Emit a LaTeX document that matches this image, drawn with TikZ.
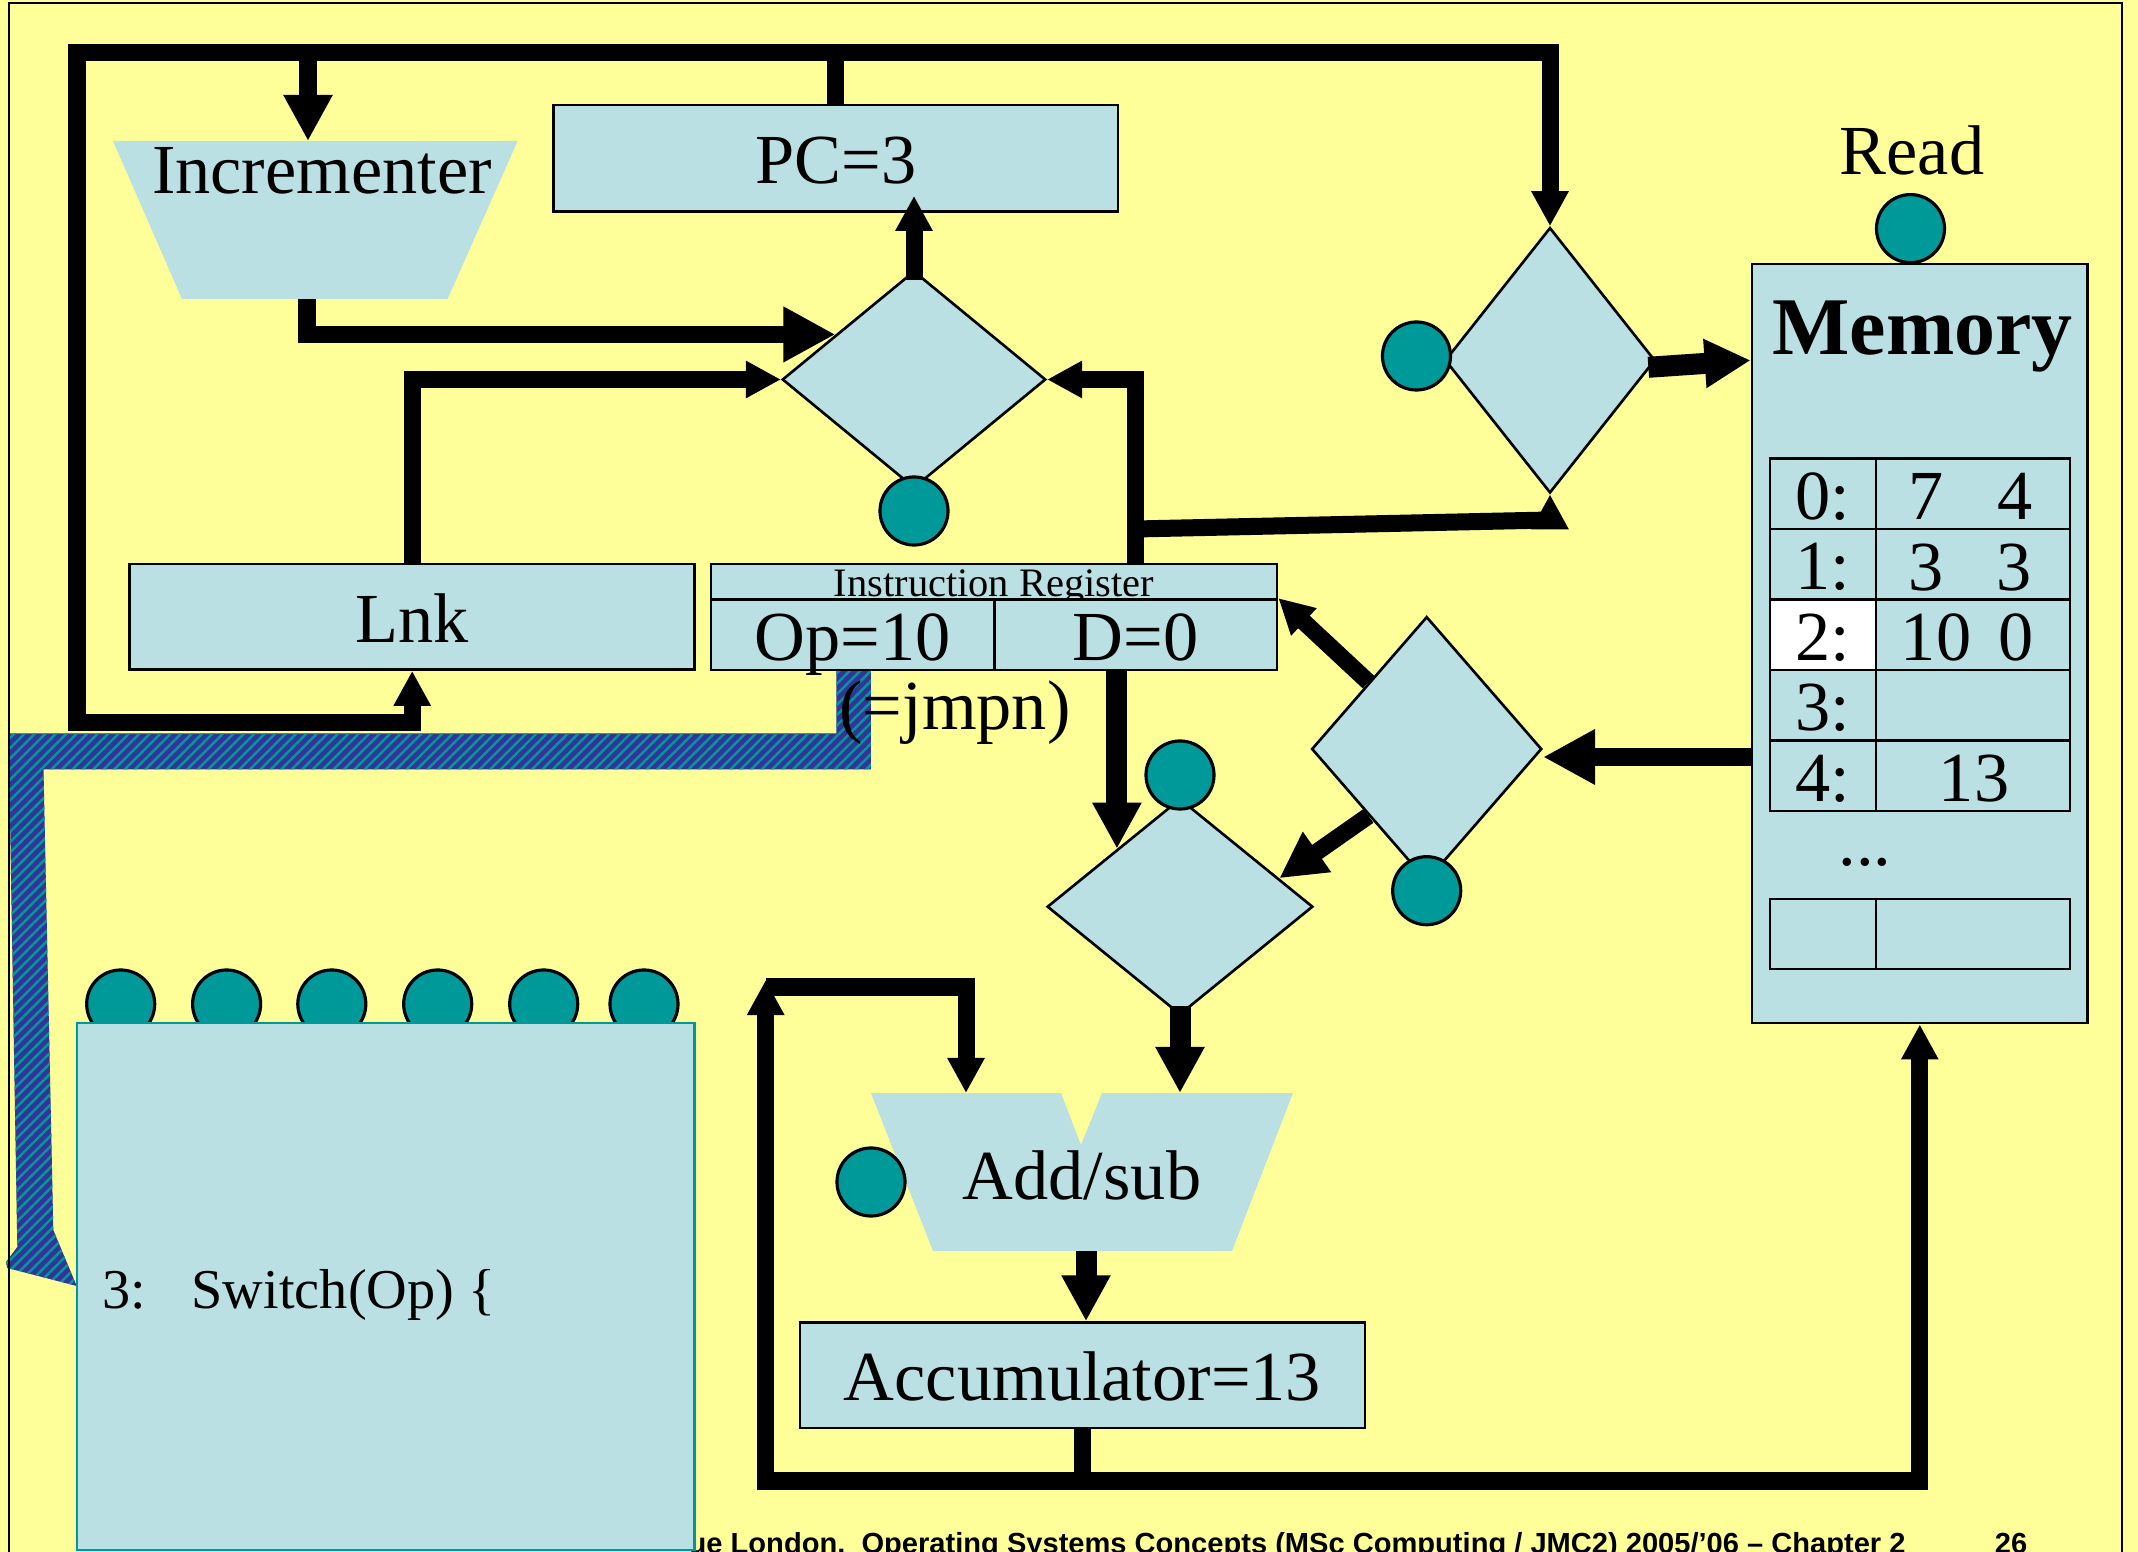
\documentclass[tikz,border=0pt]{standalone}
\usepackage{fontspec}
\setmainfont{Liberation Serif}
\newfontfamily\footfont{Liberation Sans}
\usetikzlibrary{arrows.meta,calc,shapes.geometric,patterns.meta}

\definecolor{slideyellow}{HTML}{FFFF99}
\definecolor{regblue}{HTML}{BBE0E3}
\definecolor{ctlteal}{HTML}{009999}
\definecolor{hatchblue}{HTML}{333399}

\tikzset{
  bus/.style={line width=1.7mm},
  fatbus/.style={line width=2.1mm},
  smalltip/.tip={Triangle[length=3.5mm,width=3.5mm]},
  midtip/.tip={Triangle[length=4.6mm,width=4.6mm]},
  bigtip/.tip={Triangle[length=5.2mm,width=5.2mm]},
  big/.style={font=\fontsize{20}{24}\selectfont, text height=14.6pt, text depth=0pt},
  reg/.style={draw, line width=0.7pt, fill=regblue, inner sep=0pt, big},
  mux/.style={diamond, draw, line width=0.75pt, fill=regblue, inner sep=0pt},
  ctl/.style={circle, draw, line width=0.9pt, fill=ctlteal, minimum size=6.8mm, inner sep=0pt},
  jumppath/.style={fill=hatchblue,
    postaction={pattern={Lines[angle=45,distance=2.1pt,line width=0.7pt]}, pattern color=ctlteal}},
}

\begin{document}
\begin{tikzpicture}[x=0.01cm, y=-0.01cm]

  % --- 1. slide ---
  \useasboundingbox (0,0) rectangle (2138,1552);
  \fill[slideyellow] (0,0) rectangle (2138,1552);

  % --- 2. hatched jump path (Op -> decoder) ---
  \path[jumppath] (836.4,670) -- (870.8,670) -- (870.8,769.3) -- (43.5,769.3)
    -- (53.3,1230) -- (76.7,1286) -- (7.3,1268) -- (6,1262) -- (17.3,1247)
    -- (8.6,733.3) -- (836.4,733.3) -- cycle;

  % --- 3. registers and units ---
  \node[reg, minimum width=5.645cm, minimum height=1.066cm] (pc) at (835.8,158.3) {PC=3};
  \node[reg, minimum width=5.647cm, minimum height=1.058cm] (lnk) at (412.2,616.7) {Lnk};
  \node[reg, minimum width=5.66cm, minimum height=0.353cm,
        font=\fontsize{11.5}{13}\selectfont, text height=8.5pt] (irtitle) at (994,581.6) {Instruction Register};
  \node[reg, minimum width=2.836cm, minimum height=0.707cm] (irop) at (852.8,634.7) {Op=10};
  \node[reg, minimum width=2.824cm, minimum height=0.707cm] (ird) at (1135.8,634.7) {D=0};
  \node[big, anchor=base] (jmpnote) at (955,730) {(=jmpn)};
  \node[reg, minimum width=5.65cm, minimum height=1.055cm] (acc) at (1082.5,1375.3) {Accumulator=13};

  % incrementer and adder
  \fill[regblue] (113,141) -- (517.7,141) -- (447.6,299) -- (182,299) -- cycle;
  \node[big, anchor=base] (inclabel) at (322,194) {Incrementer};
  \fill[regblue] (871,1093) -- (1061,1093) -- (1081,1145) -- (1102,1093) -- (1293,1093)
    -- (1232,1251) -- (933,1251) -- cycle;
  \node[big, anchor=base] (addlabel) at (1082,1199.5) {Add/sub};
  \coordinate (incin) at (308,141);
  \coordinate (incout) at (307,299);
  \coordinate (addin) at (1180,1093);
  \coordinate (fbin) at (966,1093);
  \coordinate (addout) at (1086,1251);

  % multiplexers
  \node[mux, minimum width=2.634cm, minimum height=2.17cm] (pcmux) at (914,379.5) {};
  \node[mux, minimum width=2.1cm, minimum height=2.653cm] (admux) at (1550,360.3) {};
  \node[mux, minimum width=2.3cm, minimum height=2.646cm] (datamux) at (1426.7,749) {};
  \node[mux, minimum width=2.656cm, minimum height=2.16cm] (alumux) at (1180,906.7) {};

  % --- 4. memory ---
  \node[reg, minimum width=3.355cm, minimum height=7.59cm] (mem) at (1919.8,643.5) {};
  \node[font=\fontsize{23.3}{28}\selectfont\bfseries, anchor=base] (memlabel) at (1922.5,355) {Memory};
  \node[big, anchor=base] (readlabel) at (1912,175) {Read};
  \fill[white] (1770,599.5) rectangle (1876,670);
  \foreach \r in {0,...,4} {
    \pgfmathsetmacro{\ytop}{458.5+70.5*\r}
    \draw[line width=0.7pt] (1770,\ytop) rectangle (1876,\ytop+70.5);
    \draw[line width=0.7pt] (1876,\ytop) rectangle (2070,\ytop+70.5);
    \node[big] (addr\r) at (1823,\ytop+35.25) {\r:};
  }
  \node[big] (m0a) at (1926,494) {7};
  \node[big] (m0b) at (2015,494) {4};
  \node[big] (m1a) at (1926,564.5) {3};
  \node[big] (m1b) at (2014,564.5) {3};
  \node[big] (m2a) at (1936,635) {10};
  \node[big] (m2b) at (2016,635) {0};
  \node[big] (m4a) at (1974,775.5) {13};
  \node[big, anchor=base] (memdots) at (1865,866) {...};
  \draw[line width=0.7pt] (1770,899) rectangle (1876,969);
  \draw[line width=0.7pt] (1876,899) rectangle (2070,969);

  % --- 5. buses ---
  \coordinate (busy) at (0,53);
  \coordinate (loopy) at (0,722.5);
  \coordinate (leftx) at (77,0);
  \draw[bus, {smalltip}-{smalltip}] (lnk.south) |- (leftx |- loopy) |- (admux.north |- busy) -- (admux.north);
  \draw[bus] (pc.north) -- (pc.north |- busy);
  \draw[bus, -{midtip}] (incin |- busy) -- (incin);
  \draw[bus, -{bigtip}] (incout) |- ($(pcmux.west)!0.41!(pcmux.north)$);
  \draw[bus, -{smalltip}] (lnk.north) |- (pcmux.west);
  \draw[bus, -{smalltip}] (irtitle.north -| ird.north) |- (pcmux.east);
  \draw[bus, -{smalltip}] ($(pcmux.north)+(0,10)$) -- ($(pc.south -| pcmux.north)+(0,-17)$);

  % D field to the address multiplexer
  \coordinate (dtapy) at (0,529);
  \coordinate (adtapy) at (0,520);
  \draw[bus] (ird.north |- dtapy) -- (admux.south |- adtapy);
  \draw[bus, -{smalltip}] ($(admux.south)+(0,35)$) -- (admux.south);
  \draw[fatbus, -{midtip}] ($(admux.east)+(-8,7)$) -- (mem.west |- admux.east);

  % memory data path
  \draw[bus, -{bigtip}] ($(mem.west |- datamux.east)+(0,8)$) -- ($(datamux.east)+(0,8)$);
  \draw[bus, -{smalltip}] (datamux.north west) -- (ird.north east);
  \draw[bus, -{midtip}] (datamux.south west) -- ($(alumux.north)!0.74!(alumux.east)$);
  \coordinate (aluin) at ($(alumux.west)!0.53!(alumux.north)$);
  \draw[fatbus, -{midtip}] (ird.south -| aluin) -- (aluin);
  \draw[fatbus, -{midtip}] ($(alumux.south)+(0,-10)$) -- (addin);
  \draw[fatbus, -{midtip}] (addout) -- (addout |- acc.north);

  % accumulator loop
  \coordinate (loopby) at (0,1481);
  \coordinate (fbcorner) at (765.7,987);
  \draw[bus, -{smalltip}] (acc.south) |- (fbcorner |- loopby) -- ($(fbcorner)+(0,-7)$);
  \draw[bus, -{smalltip}] (fbcorner) -| (fbin);
  \draw[bus, -{smalltip}] (acc.south) |- (mem.south |- loopby) -- (mem.south);

  % --- 6. control lines ---
  \node[ctl] (pcsel) at (914,511) {};
  \node[ctl] (adsel) at (1416.5,356) {};
  \node[ctl] (rd) at (1910.5,228.6) {};
  \node[ctl] (datasel) at (1426.7,890.7) {};
  \node[ctl] (alusel) at (1180,775) {};
  \node[ctl] (addsel) at (871,1182) {};
  \foreach \x [count=\i] in {120.7,226.6,331.8,437.7,543.7,644}
    \node[ctl] (op\i) at (\x,1004) {};

  % --- 7. footer and decoder ---
  \node[font=\footfont\bfseries\fontsize{8.27}{9}\selectfont, anchor=base west, inner sep=0pt] (footer)
    at (688,1553) {ue London.\ \ Operating Systems Concepts (MSc Computing / JMC2) 2005/’06 – Chapter 2};
  \node[font=\footfont\bfseries\fontsize{8.27}{9}\selectfont, anchor=base east, inner sep=0pt] (pageno)
    at (2028,1553) {26};
  \node[draw=ctlteal, line width=0.7pt, fill=regblue, minimum width=6.172cm, minimum height=5.27cm,
        inner sep=0pt] (decoder) at (385.9,1286.5) {};
  \node[font=\fontsize{16}{19}\selectfont, anchor=base west, inner sep=0pt] (decodetext)
    at (101.7,1308) {3:\hspace{0.455cm}Switch(Op) \{};

  % --- 8. slide border ---
  \draw[line width=0.7pt] (9,1560) -- (9,3) -- (2122,3) -- (2122,1560);

\end{tikzpicture}
\end{document}
